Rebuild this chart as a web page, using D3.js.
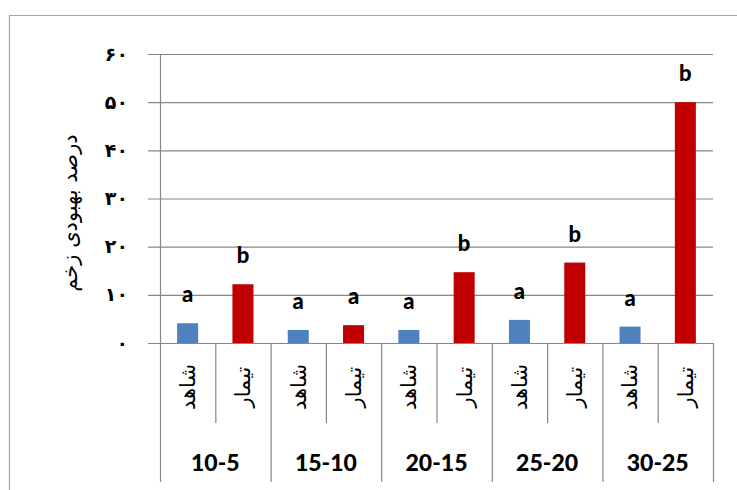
<!DOCTYPE html>
<html><head><meta charset="utf-8">
<script src="https://cdn.jsdelivr.net/npm/d3@7"></script>
<style>body{margin:0;background:#fff}svg{display:block}</style>
</head><body>
<script>
const groups = ["10-5","15-10","20-15","25-20","30-25"];
const series = ["شاهد","تیمار"];
const controlValues = [4.1, 2.7, 2.7, 4.8, 3.4];
const treatmentValues = [12.2, 3.7, 14.7, 16.7, 50];
const controlLetters = ["a","a","a","a","a"];
const treatmentLetters = ["b","a","b","b","b"];
const yTicks = [0,10,20,30,40,50,60];
const yTickLabels = ["۰","۱۰","۲۰","۳۰","۴۰","۵۰","۶۰"];
const yTitle = "درصد بهبودی زخم";

const W = 737, H = 490;
const svg = d3.select("body").append("svg").attr("width", W).attr("height", H);
const colors = ["#4F81BD", "#C00000"];
const persianFont = "'DejaVu Sans', sans-serif";
const latinFont = "Lato, 'Open Sans', sans-serif";

// outer frame
svg.append("path").attr("d", `M9.5,${H} V15.5 H${W}`).attr("fill","none").attr("stroke","#a6a6a6").attr("stroke-width",1.2);

const left = 160, right = 713, y0 = 343, yTop = 54;
const x = d3.scaleBand().domain(groups).range([left, right]).padding(0);
const xi = d3.scaleBand().domain(series).range([0, x.bandwidth()]).padding(0);
const y = d3.scaleLinear().domain([0, 60]).range([y0, yTop]);

// gridlines with tick marks
svg.append("g").selectAll("line").data(yTicks).join("line")
  .attr("x1", 148).attr("x2", right).attr("y1", d => y(d)+0.5).attr("y2", d => y(d)+0.5)
  .attr("stroke", "#868686").attr("stroke-width", 1.2);
// y axis line
svg.append("line").attr("x1", left+0.5).attr("x2", left+0.5).attr("y1", yTop).attr("y2", y0)
  .attr("stroke", "#868686").attr("stroke-width", 1.2);

// y tick labels
svg.append("g").selectAll("text").data(yTicks).join("text")
  .attr("x", 128).attr("y", d => y(d)).attr("dy", "0.35em")
  .attr("text-anchor", "end").attr("font-family", persianFont).attr("font-size", 19)
  .attr("font-weight", "bold").attr("fill", "#000").text((d, i) => yTickLabels[i]);

// y title
svg.append("text").attr("transform", `translate(70,213) rotate(-90)`)
  .attr("text-anchor", "middle").attr("dy", "0.35em")
  .attr("font-family", persianFont).attr("font-size", 21).attr("fill", "#000").text(yTitle);

// data rows
const rows = [];
groups.forEach((g, i) => {
  rows.push({g, s: series[0], v: controlValues[i], l: controlLetters[i], c: 0});
  rows.push({g, s: series[1], v: treatmentValues[i], l: treatmentLetters[i], c: 1});
});
const bw = xi.bandwidth() * 0.38;
const cx = d => x(d.g) + xi(d.s) + xi.bandwidth() / 2;

svg.append("g").selectAll("rect").data(rows).join("rect")
  .attr("x", d => cx(d) - bw / 2).attr("width", bw)
  .attr("y", d => y(d.v)).attr("height", d => y0 - y(d.v))
  .attr("fill", d => colors[d.c]);

svg.append("g").selectAll("text").data(rows).join("text")
  .attr("x", d => cx(d)).attr("y", d => y(d.v) - 21)
  .attr("text-anchor", "middle").attr("font-family", latinFont).attr("font-weight", "900")
  .attr("font-size", 22).attr("fill", "#000").text(d => d.l);

// category table lines
const lc = "#868686";
const tbl = svg.append("g");
const groupEdges = groups.map(g => x(g)).concat([right]);
tbl.selectAll("line.long").data(groupEdges).join("line").attr("class","long")
  .attr("x1", d => d + 0.5).attr("x2", d => d + 0.5).attr("y1", y0).attr("y2", 482)
  .attr("stroke", lc).attr("stroke-width", 1.2);
tbl.selectAll("line.short").data(groups).join("line").attr("class","short")
  .attr("x1", g => x(g) + xi(series[1]) + 0.5).attr("x2", g => x(g) + xi(series[1]) + 0.5)
  .attr("y1", y0).attr("y2", 423).attr("stroke", lc).attr("stroke-width", 1.2);

// series labels rotated
svg.append("g").selectAll("text").data(rows).join("text")
  .attr("transform", d => `translate(${cx(d)},387) rotate(-90)`)
  .attr("text-anchor", "middle").attr("dy", "0.35em")
  .attr("font-family", persianFont).attr("font-size", 21).attr("fill", "#000").text(d => d.s);

// group labels
svg.append("g").selectAll("text").data(groups).join("text")
  .attr("x", g => x(g) + x.bandwidth() / 2).attr("y", 463).attr("dy", "0.35em")
  .attr("text-anchor", "middle").attr("font-family", latinFont).attr("font-weight", "900")
  .attr("font-size", 23).attr("fill", "#000").text(g => g);
</script>
</body></html>
